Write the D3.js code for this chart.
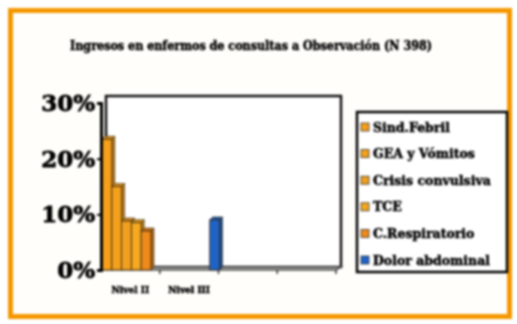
<!DOCTYPE html>
<html>
<head>
<meta charset="utf-8">
<script src="https://cdn.jsdelivr.net/npm/d3@7"></script>
<style>
  html, body { margin: 0; padding: 0; background: #ffffff; }
  svg { display: block; filter: blur(0.8px); }
</style>
</head>
<body>
<script>
const titleText = "Ingresos en enfermos de consultas a Observación (N 398)";
const categories = ["Nivel II", "Nivel III", " ", "  "];
const seriesNames = ["Sind.Febril", "GEA y Vómitos", "Crisis convulsiva", "TCE", "C.Respiratorio", "Dolor abdominal"];
const sindFebril = [23.5, 0, 0, 0];
const geaVomitos = [15, 0, 0, 0];
const crisisConv = [8.8, 0, 0, 0];
const tce = [8.5, 0, 0, 0];
const cRespiratorio = [7, 0, 0, 0];
const dolorAbdominal = [0, 9, 0, 0];
const seriesValues = [sindFebril, geaVomitos, crisisConv, tce, cRespiratorio, dolorAbdominal];
const seriesColors = ["#f6a01a", "#f3a01c", "#f0a020", "#f5a820", "#ee8a1c", "#1f63c6"];
const yTickValues = [0, 10, 20, 30];

const W = 517, H = 324;
const svg = d3.select("body").append("svg").attr("width", W).attr("height", H);

// outer frame
svg.append("rect").attr("x", 0).attr("y", 0).attr("width", W).attr("height", H).attr("fill", "#ffffff");
svg.append("rect").attr("x", 10.5).attr("y", 10.5).attr("width", 499).attr("height", 306)
  .attr("fill", "#fffefa").attr("stroke", "#f59800").attr("stroke-width", 5);

// title
svg.append("text").attr("x", 70).attr("y", 50)
  .attr("font-family", "DejaVu Serif").attr("font-weight", "bold").attr("font-size", 12)
  .attr("textLength", 362).attr("lengthAdjust", "spacingAndGlyphs")
  .attr("fill", "#000").attr("stroke", "#000").attr("stroke-width", 0.5).text(titleText);

const x0 = d3.scaleBand().domain(categories).range([101, 336]).paddingInner(0).paddingOuter(0);
const x1 = d3.scaleBand().domain(seriesNames).range([1, x0.bandwidth() + 1]).paddingInner(0);
const y = d3.scaleLinear().domain([0, 30]).range([270, 103]);

const wallDx = 5, wallTop = 96, floorDy = -3;

// back wall
svg.append("rect").attr("x", 101 + wallDx).attr("y", wallTop).attr("width", 336 - 101)
  .attr("height", y(0) + floorDy - wallTop)
  .attr("fill", "#ffffff").attr("stroke", "#111").attr("stroke-width", 2.5);
// floor
svg.append("path")
  .attr("d", `M101,${y(0)} L336,${y(0)} L${336 + wallDx},${y(0) + floorDy} L${101 + wallDx},${y(0) + floorDy} Z`)
  .attr("fill", "#a8a8a8").attr("stroke", "#555").attr("stroke-width", 1.5);

// bars
const d = 3;
seriesValues.forEach((vals, si) => {
  const col = d3.color(seriesColors[si]);
  vals.forEach((v, ci) => {
    if (v <= 0) return;
    const bx = x0(categories[ci]) + x1(seriesNames[si]);
    const bw = x1.bandwidth();
    const top = y(v), base = y(0);
    const g = svg.append("g");
    g.append("path")
      .attr("d", `M${bx + bw},${top} L${bx + bw + d},${top - d} L${bx + bw + d},${base - d} L${bx + bw},${base} Z`)
      .attr("fill", col.darker(0.8)).attr("stroke", "#3a2a10").attr("stroke-width", 0.6);
    g.append("path")
      .attr("d", `M${bx},${top} L${bx + d},${top - d} L${bx + bw + d},${top - d} L${bx + bw},${top} Z`)
      .attr("fill", col.darker(0.4)).attr("stroke", "#3a2a10").attr("stroke-width", 0.6);
    g.append("rect").attr("x", bx).attr("y", top).attr("width", bw).attr("height", base - top)
      .attr("fill", col).attr("stroke", "#3a2a10").attr("stroke-width", 0.8);
  });
});

// y axis
const yAxis = d3.axisLeft(y).tickValues(yTickValues).tickFormat(v => v + "%").tickSize(4).tickPadding(2);
const ya = svg.append("g").attr("transform", "translate(101,0)").call(yAxis);
ya.select(".domain").attr("stroke", "#000").attr("stroke-width", 3);
ya.selectAll(".tick line").attr("stroke", "#000").attr("stroke-width", 2);
ya.selectAll(".tick text").attr("font-family", "DejaVu Serif").attr("font-weight", "bold")
  .attr("font-size", 23).attr("fill", "#000").attr("stroke", "#000").attr("stroke-width", 0.8);

// x axis
const xAxis = d3.axisBottom(x0).tickSize(0).tickPadding(17);
const xa = svg.append("g").attr("transform", `translate(0,${y(0)})`).call(xAxis);
xa.select(".domain").remove();
xa.selectAll(".tick text").attr("font-family", "DejaVu Serif").attr("font-weight", "bold")
  .attr("font-size", 9).attr("fill", "#000").attr("stroke", "#000").attr("stroke-width", 0.5);
// category boundary ticks
svg.selectAll(".cattick").data(categories.slice(1).map(c => x0(c)).concat([336]))
  .enter().append("line")
  .attr("x1", v => v).attr("x2", v => v).attr("y1", y(0)).attr("y2", y(0) + 4)
  .attr("stroke", "#333").attr("stroke-width", 1.5);

// legend
const lg = svg.append("g");
lg.append("rect").attr("x", 357).attr("y", 112).attr("width", 150).attr("height", 160)
  .attr("fill", "#ffffff").attr("stroke", "#000").attr("stroke-width", 2.5);
const ly = d3.scalePoint().domain(seriesNames).range([127, 260]);
seriesNames.forEach((n, i) => {
  lg.append("rect").attr("x", 361).attr("y", ly(n) - 4).attr("width", 8).attr("height", 8)
    .attr("fill", seriesColors[i]).attr("stroke", "#333").attr("stroke-width", 0.8);
  lg.append("text").attr("x", 373).attr("y", ly(n) + 4.5)
    .attr("font-family", "DejaVu Serif").attr("font-weight", "bold").attr("font-size", 12.5)
    .attr("fill", "#000").attr("stroke", "#000").attr("stroke-width", 0.5).text(n);
});
</script>
</body>
</html>
